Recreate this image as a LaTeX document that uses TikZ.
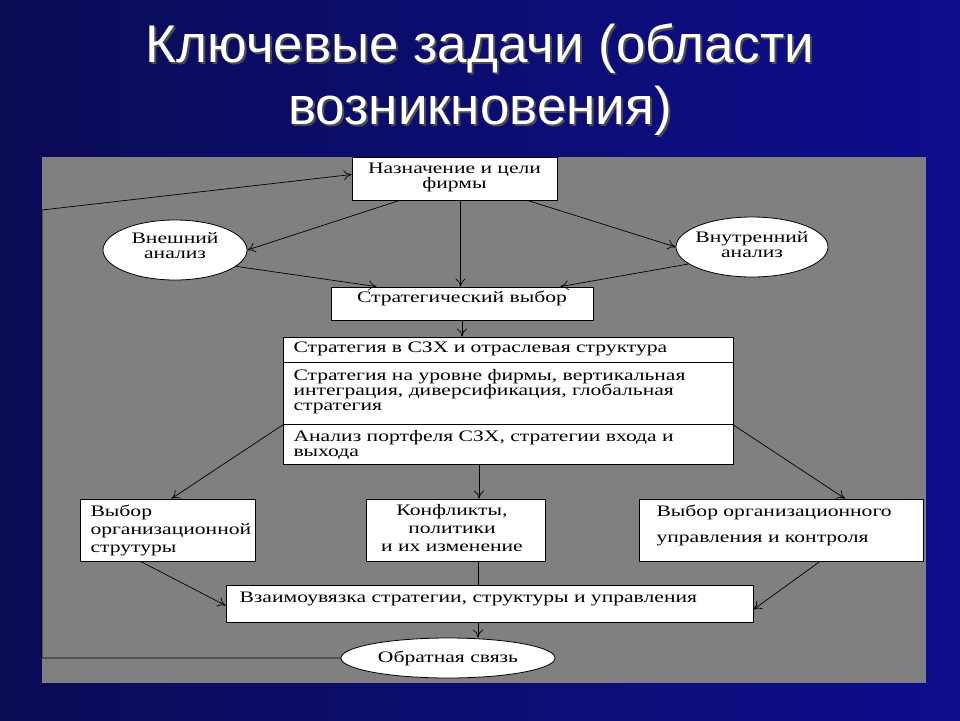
\documentclass[tikz,border=0pt]{standalone}
\usepackage{fontspec}
\setmainfont{Liberation Serif}[FakeStretch=1.35]
\newfontfamily\titlefont{Liberation Sans}
\usetikzlibrary{shapes.geometric,arrows.meta,calc}
\definecolor{bgblue}{HTML}{10107A}
\definecolor{panel}{HTML}{808080}
\tikzset{
  box/.style={draw=black, fill=white, line width=0.8pt, inner sep=0pt},
  ell/.style={draw=black, fill=white, line width=0.8pt, ellipse, inner sep=0pt},
  arr/.style={line width=0.7pt, -{To[length=8pt,width=10pt]}},
  ln/.style={line width=0.7pt},
  txt/.style={font=\fontsize{16}{15}\selectfont, align=center}
}
\begin{document}
\begin{tikzpicture}[x=1pt,y=-1pt]
\useasboundingbox (0,0) rectangle (960,720);
\shade[left color=bgblue!70!black, right color=bgblue!85!blue] (0,0) rectangle (960,720);
\fill[panel] (42,157) rectangle (926,683);
\node[text=black!70, font=\titlefont\fontsize{53}{62}\selectfont, align=center] (titleshadow) at (482,82) {Ключевые задачи (области\\возникновения)};
\node[text=white, font=\titlefont\fontsize{53}{62}\selectfont, align=center] (title) at (480,80) {Ключевые задачи (области\\возникновения)};
% nodes
\node[box, minimum width=205pt, minimum height=43pt] (goal) at (454.5,178.5) {};
\node[txt] at (454.5,177) {Назначение и цели\\фирмы};
\node[ell, minimum width=144pt, minimum height=60pt] (ext) at (175,250) {};
\node[txt] at (175,246) {Внешний\\анализ};
\node[ell, minimum width=152pt, minimum height=60pt] (int) at (752,247) {};
\node[txt] at (752,245) {Внутренний\\анализ};
\node[box, minimum width=262pt, minimum height=33pt] (sc) at (462,303.5) {};
\node[txt] at (462,298) {Стратегический выбор};
\node[box, minimum width=450pt, minimum height=127pt] (big) at (508,400.5) {};
\draw[ln] (283,362) -- (733,362);
\draw[ln] (283,424) -- (733,424);
\node[txt, anchor=west] at (290,349) {Стратегия в СЗХ и отраслевая структура};
\node[txt, anchor=north west, align=left] at (290,366) {Стратегия на уровне фирмы, вертикальная\\интеграция, диверсификация, глобальная\\стратегия};
\node[txt, anchor=north west, align=left] at (290,427) {Анализ портфеля СЗХ, стратегии входа и\\выхода};
\node[box, minimum width=175pt, minimum height=62pt] (lb) at (167.5,530) {};
\node[txt, anchor=north west, align=left, font=\fontsize{16}{18}\selectfont] at (87,502) {Выбор\\организационной\\струтуры};
\node[box, minimum width=179pt, minimum height=62pt] (mb) at (455.5,530) {};
\node[txt, font=\fontsize{16}{18}\selectfont] at (452,528) {Конфликты,\\политики\\и их изменение};
\node[box, minimum width=284pt, minimum height=62pt] (rb) at (781,530) {};
\node[txt, anchor=north west, align=left, font=\fontsize{16}{26}\selectfont] at (653,502) {Выбор организационного\\управления и контроля};
\node[box, minimum width=527pt, minimum height=37pt] (lk) at (489.5,603.5) {};
\node[txt, anchor=west] at (236,599) {Взаимоувязка стратегии, структуры и управления};
\node[ell, minimum width=214pt, minimum height=40pt] (fb) at (448,658) {};
\node[txt] at (448,658) {Обратная связь};
% connectors
\coordinate (g1) at ($(goal.south west)+(48,0)$);
\coordinate (g2) at ($(goal.south east)+(-30,0)$);
\coordinate (g3) at ($(goal.south)+(6,0)$);
\draw[arr] (g1) -- (ext.east);
\draw[arr] (g2) -- (int.west);
\draw[arr] (g3) -- (g3 |- sc.north);
\draw[arr] (ext.-15) -- ($(sc.north west)+(46,0)$);
\draw[arr] (int.195) -- ($(sc.north east)+(-33,0)$);
\draw[arr] (sc.south) -- (sc.south |- big.north);
\draw[arr] (big.west |- 0,425) -- ($(lb.north)+(4,0)$);
\coordinate (b2) at (479,464);
\draw[arr] (b2) -- (b2 |- mb.north);
\draw[arr] (big.east |- 0,425) -- ($(rb.north)+(64,0)$);
\draw[arr] ($(lb.south)+(-27,0)$) -- ($(lk.west)+(0,2)$);
\coordinate (m2) at (478,561);
\draw[ln] (m2) -- (m2 |- lk.north);
\draw[arr] ($(rb.south)+(39,0)$) -- ($(lk.east)+(0,6)$);
\coordinate (k2) at (478,622);
\draw[arr] (k2) -- (k2 |- fb.north);
\draw[arr] (fb.west) -- (42,658) -- (42,210) -- ($(goal.west)+(0,-4)$);
\end{tikzpicture}
\end{document}
